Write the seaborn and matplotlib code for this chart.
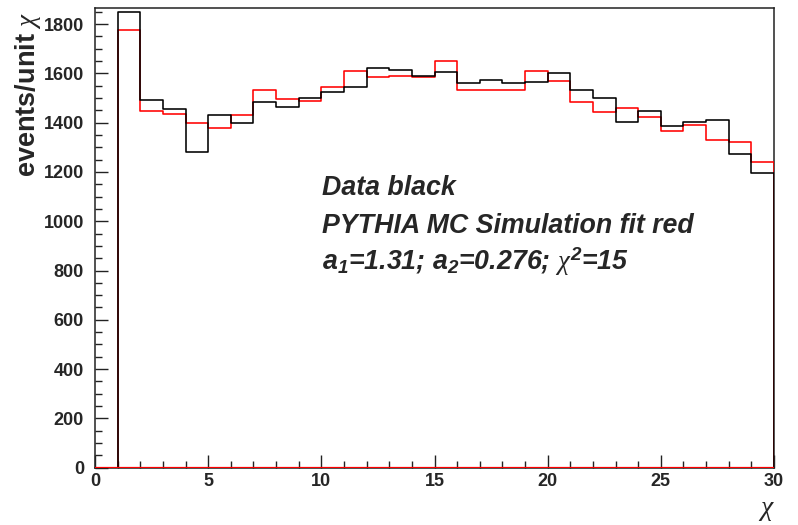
import numpy as np
import pandas as pd
import matplotlib
matplotlib.use("Agg")
import matplotlib.pyplot as plt
from matplotlib.ticker import MultipleLocator
import seaborn as sns

# ---- data ----
bin_lo = [1, 2, 3, 4, 5, 6, 7, 8, 9, 10, 11, 12, 13, 14, 15,
          16, 17, 18, 19, 20, 21, 22, 23, 24, 25, 26, 27, 28, 29]
bin_edges = [1, 2, 3, 4, 5, 6, 7, 8, 9, 10, 11, 12, 13, 14, 15,
             16, 17, 18, 19, 20, 21, 22, 23, 24, 25, 26, 27, 28, 29, 30]
data_black = [1850, 1490, 1455, 1281, 1431, 1398, 1485, 1465, 1498, 1523,
              1543, 1623, 1613, 1589, 1606, 1559, 1573, 1559, 1563, 1602,
              1534, 1499, 1402, 1448, 1386, 1402, 1411, 1273, 1194]
mc_red = [1776, 1446, 1435, 1400, 1377, 1431, 1532, 1495, 1489, 1544,
          1608, 1584, 1589, 1585, 1651, 1531, 1531, 1531, 1608, 1570,
          1485, 1442, 1459, 1421, 1366, 1392, 1331, 1320, 1241]
x_ticks = [0, 5, 10, 15, 20, 25, 30]
y_ticks = [0, 200, 400, 600, 800, 1000, 1200, 1400, 1600, 1800]

df = pd.DataFrame({"chi": bin_lo, "data": data_black, "mc": mc_red})

sns.set_theme(style="ticks")
plt.rcParams["font.family"] = ["Liberation Sans", "DejaVu Sans"]
plt.rcParams["mathtext.fontset"] = "custom"
plt.rcParams["mathtext.rm"] = "Liberation Sans:bold:italic"
plt.rcParams["mathtext.bf"] = "Liberation Sans:bold:italic"
plt.rcParams["mathtext.it"] = "Liberation Serif:italic"

W, H = 798, 525
fig = plt.figure(figsize=(W / 100, H / 100), dpi=100)
fig.patch.set_facecolor("white")
ax = fig.add_axes([95 / W, 1 - 467.7 / H, (774 - 95) / W, (467.7 - 8) / H])
ax.set_facecolor("white")

lw = 1.15
sns.histplot(data=df, x="chi", weights="mc", bins=bin_edges, element="step",
             fill=True, color="#ff0000", facecolor="none", edgecolor="#ff0000",
             linewidth=lw, ax=ax, zorder=3)
sns.histplot(data=df, x="chi", weights="data", bins=bin_edges, element="step",
             fill=True, color="black", facecolor="none", edgecolor="black",
             linewidth=lw, ax=ax, zorder=4)
ax.axhline(0, color="#ff0000", linewidth=1.6, zorder=5)

ax.set_xlim(0, 30)
ax.set_ylim(0, 1865)
ax.set_xticks(x_ticks)
ax.set_yticks(y_ticks)
ax.xaxis.set_minor_locator(MultipleLocator(1))
ax.yaxis.set_minor_locator(MultipleLocator(50))
ax.tick_params(axis="both", which="both", direction="in", color="#222222",
               width=1.0, top=False, right=False)
ax.tick_params(axis="both", which="major", length=9.3)
ax.tick_params(axis="both", which="minor", length=4.8)
ax.tick_params(axis="y", which="major", pad=8, labelsize=13)
ax.tick_params(axis="x", which="major", pad=4, labelsize=13)
for lab in ax.get_xticklabels() + ax.get_yticklabels():
    lab.set_fontweight("bold")
for sp in ax.spines.values():
    sp.set_visible(True)
    sp.set_color("#222222")
    sp.set_linewidth(1.1)

ax.set_xlabel("")
ax.set_ylabel("")
fig.text(13 / W, 1 - 12 / H, r"events/unit $\chi$", rotation=90,
         ha="left", va="top", fontsize=19.5, fontweight="bold")
fig.text(766 / W, 1 - 510 / H, r"$\chi$", ha="center", va="center",
         fontsize=20)

ann_kw = dict(fontsize=19.3, fontweight="bold", fontstyle="italic",
              ha="left", va="baseline")
fig.text(322 / W, 1 - 195 / H, "Data black", **ann_kw)
fig.text(322 / W, 1 - 233 / H, "PYTHIA MC Simulation fit red", **ann_kw)
fig.text(322 / W, 1 - 270 / H, r"a$_1$=1.31; a$_2$=0.276; $\chi^2$=15",
         **ann_kw)

fig.savefig("out.png", dpi=100, facecolor="white")
